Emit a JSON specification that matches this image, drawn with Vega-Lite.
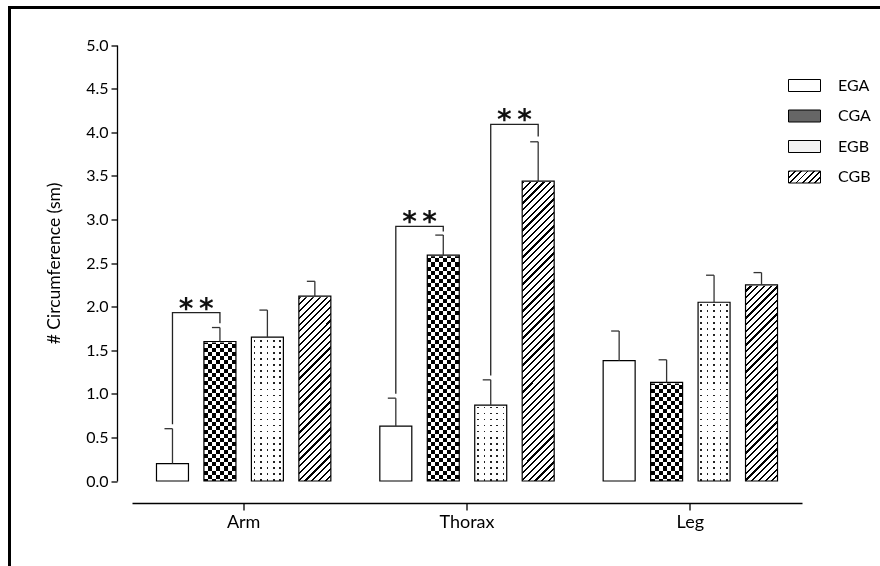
{
"$schema": "https://vega.github.io/schema/vega-lite/v6.json",
"width": 870.5,
"height": 558.5,
"autosize": {"type": "none"},
"padding": {"left": 9.5, "top": 7.5, "right": 0, "bottom": 0},
"background": "white",
"datasets": {
"bars": [
{"group":"Arm","series":"EGA","value":0.2,"upper":0.6},
{"group":"Arm","series":"CGA","value":1.6,"upper":1.76},
{"group":"Arm","series":"EGB","value":1.65,"upper":1.96},
{"group":"Arm","series":"CGB","value":2.12,"upper":2.29},
{"group":"Thorax","series":"EGA","value":0.63,"upper":0.95},
{"group":"Thorax","series":"CGA","value":2.59,"upper":2.82},
{"group":"Thorax","series":"EGB","value":0.87,"upper":1.16},
{"group":"Thorax","series":"CGB","value":3.44,"upper":3.89},
{"group":"Leg","series":"EGA","value":1.38,"upper":1.72},
{"group":"Leg","series":"CGA","value":1.13,"upper":1.39},
{"group":"Leg","series":"EGB","value":2.05,"upper":2.36},
{"group":"Leg","series":"CGB","value":2.25,"upper":2.39}
],
"brackets": [
{"id":"b1","group":"Arm","series":"EGA","y":0.65,"o":1},
{"id":"b1","group":"Arm","series":"EGA","y":1.93,"o":2},
{"id":"b1","group":"Arm","series":"CGA","y":1.93,"o":3},
{"id":"b1","group":"Arm","series":"CGA","y":1.81,"o":4},
{"id":"b2","group":"Thorax","series":"EGA","y":1.0,"o":1},
{"id":"b2","group":"Thorax","series":"EGA","y":2.92,"o":2},
{"id":"b2","group":"Thorax","series":"CGA","y":2.92,"o":3},
{"id":"b2","group":"Thorax","series":"CGA","y":2.86,"o":4},
{"id":"b3","group":"Thorax","series":"EGB","y":1.21,"o":1},
{"id":"b3","group":"Thorax","series":"EGB","y":4.09,"o":2},
{"id":"b3","group":"Thorax","series":"CGB","y":4.09,"o":3},
{"id":"b3","group":"Thorax","series":"CGB","y":3.95,"o":4}
],
"stars": [
{"group":"Arm","series":"CGA","y":1.93},
{"group":"Thorax","series":"CGA","y":2.92},
{"group":"Thorax","series":"CGB","y":4.09}
]
},
"layer": [
{
"data": {"name": "bars"},
"transform": [{"filter": "datum.series === 'CGA'"}],
"mark": {"type": "bar", "fill": {"gradient": "linear", "x1": 0, "y1": 0, "x2": 1, "y2": 0, "stops": [
{"offset":0,"color":"#000"},{"offset":0.125,"color":"#000"},{"offset":0.125,"color":"#fff"},{"offset":0.25,"color":"#fff"},
{"offset":0.25,"color":"#000"},{"offset":0.375,"color":"#000"},{"offset":0.375,"color":"#fff"},{"offset":0.5,"color":"#fff"},
{"offset":0.5,"color":"#000"},{"offset":0.625,"color":"#000"},{"offset":0.625,"color":"#fff"},{"offset":0.75,"color":"#fff"},
{"offset":0.75,"color":"#000"},{"offset":0.875,"color":"#000"},{"offset":0.875,"color":"#fff"},{"offset":1,"color":"#fff"}]}},
"encoding": {
"x": {"field": "group", "type": "nominal", "scale": {"domain": ["Arm","Thorax","Leg"], "range": [122.5, 792.5], "paddingInner": 0, "paddingOuter": 0},
"axis": {"title": null, "labelAngle": 0, "offset": -63, "tickSize": 7, "tickWidth": 1.3, "domainWidth": 1.3, "labelPadding": 3, "labelFontSize": 18}},
"xOffset": {"field": "series", "type": "nominal", "scale": {"domain": ["EGA","CGA","EGB","CGB"], "paddingInner": 0.326, "paddingOuter": 0.516}},
"y": {"datum": 2.6, "type": "quantitative", "scale": {"domain": [0, 5], "range": [473.5, 37.5], "nice": false, "zero": true},
"axis": {"title": "# Circumference (sm)", "values": [0,0.5,1,1.5,2,2.5,3,3.5,4,4.5,5], "format": ".1f", "offset": -107.5, "tickSize": 6, "tickWidth": 1.3, "domainWidth": 1.3, "labelPadding": 3, "labelFontSize": 16, "titleFontSize": 17.5, "titlePadding": 22, "grid": false}},
"y2": {"datum": 0}
}
},
{
"data": {"name": "bars"},
"transform": [{"filter": "datum.series === 'CGA'"}],
"mark": {"type": "bar", "blend": "difference", "fill": {"gradient": "linear", "x1": 0, "y1": 0, "x2": 0, "y2": 1, "stops": [
{"offset":0,"color":"#fff"},{"offset":0.018,"color":"#fff"},{"offset":0.018,"color":"rgba(255,255,255,0)"},{"offset":0.036,"color":"rgba(255,255,255,0)"},
{"offset":0.036,"color":"#fff"},{"offset":0.054,"color":"#fff"},{"offset":0.054,"color":"rgba(255,255,255,0)"},{"offset":0.072,"color":"rgba(255,255,255,0)"},
{"offset":0.072,"color":"#fff"},{"offset":0.09,"color":"#fff"},{"offset":0.09,"color":"rgba(255,255,255,0)"},{"offset":0.108,"color":"rgba(255,255,255,0)"},
{"offset":0.108,"color":"#fff"},{"offset":0.126,"color":"#fff"},{"offset":0.126,"color":"rgba(255,255,255,0)"},{"offset":0.144,"color":"rgba(255,255,255,0)"},
{"offset":0.144,"color":"#fff"},{"offset":0.162,"color":"#fff"},{"offset":0.162,"color":"rgba(255,255,255,0)"},{"offset":0.18,"color":"rgba(255,255,255,0)"},
{"offset":0.18,"color":"#fff"},{"offset":0.198,"color":"#fff"},{"offset":0.198,"color":"rgba(255,255,255,0)"},{"offset":0.216,"color":"rgba(255,255,255,0)"},
{"offset":0.216,"color":"#fff"},{"offset":0.234,"color":"#fff"},{"offset":0.234,"color":"rgba(255,255,255,0)"},{"offset":0.252,"color":"rgba(255,255,255,0)"},
{"offset":0.252,"color":"#fff"},{"offset":0.27,"color":"#fff"},{"offset":0.27,"color":"rgba(255,255,255,0)"},{"offset":0.288,"color":"rgba(255,255,255,0)"},
{"offset":0.288,"color":"#fff"},{"offset":0.306,"color":"#fff"},{"offset":0.306,"color":"rgba(255,255,255,0)"},{"offset":0.324,"color":"rgba(255,255,255,0)"},
{"offset":0.324,"color":"#fff"},{"offset":0.342,"color":"#fff"},{"offset":0.342,"color":"rgba(255,255,255,0)"},{"offset":0.36,"color":"rgba(255,255,255,0)"},
{"offset":0.36,"color":"#fff"},{"offset":0.378,"color":"#fff"},{"offset":0.378,"color":"rgba(255,255,255,0)"},{"offset":0.396,"color":"rgba(255,255,255,0)"},
{"offset":0.396,"color":"#fff"},{"offset":0.414,"color":"#fff"},{"offset":0.414,"color":"rgba(255,255,255,0)"},{"offset":0.432,"color":"rgba(255,255,255,0)"},
{"offset":0.432,"color":"#fff"},{"offset":0.45,"color":"#fff"},{"offset":0.45,"color":"rgba(255,255,255,0)"},{"offset":0.468,"color":"rgba(255,255,255,0)"},
{"offset":0.468,"color":"#fff"},{"offset":0.486,"color":"#fff"},{"offset":0.486,"color":"rgba(255,255,255,0)"},{"offset":0.504,"color":"rgba(255,255,255,0)"},
{"offset":0.504,"color":"#fff"},{"offset":0.522,"color":"#fff"},{"offset":0.522,"color":"rgba(255,255,255,0)"},{"offset":0.54,"color":"rgba(255,255,255,0)"},
{"offset":0.54,"color":"#fff"},{"offset":0.558,"color":"#fff"},{"offset":0.558,"color":"rgba(255,255,255,0)"},{"offset":0.576,"color":"rgba(255,255,255,0)"},
{"offset":0.576,"color":"#fff"},{"offset":0.594,"color":"#fff"},{"offset":0.594,"color":"rgba(255,255,255,0)"},{"offset":0.612,"color":"rgba(255,255,255,0)"},
{"offset":0.612,"color":"#fff"},{"offset":0.63,"color":"#fff"},{"offset":0.63,"color":"rgba(255,255,255,0)"},{"offset":0.648,"color":"rgba(255,255,255,0)"},
{"offset":0.648,"color":"#fff"},{"offset":0.666,"color":"#fff"},{"offset":0.666,"color":"rgba(255,255,255,0)"},{"offset":0.684,"color":"rgba(255,255,255,0)"},
{"offset":0.684,"color":"#fff"},{"offset":0.702,"color":"#fff"},{"offset":0.702,"color":"rgba(255,255,255,0)"},{"offset":0.72,"color":"rgba(255,255,255,0)"},
{"offset":0.72,"color":"#fff"},{"offset":0.738,"color":"#fff"},{"offset":0.738,"color":"rgba(255,255,255,0)"},{"offset":0.756,"color":"rgba(255,255,255,0)"},
{"offset":0.756,"color":"#fff"},{"offset":0.774,"color":"#fff"},{"offset":0.774,"color":"rgba(255,255,255,0)"},{"offset":0.792,"color":"rgba(255,255,255,0)"},
{"offset":0.792,"color":"#fff"},{"offset":0.81,"color":"#fff"},{"offset":0.81,"color":"rgba(255,255,255,0)"},{"offset":0.828,"color":"rgba(255,255,255,0)"},
{"offset":0.828,"color":"#fff"},{"offset":0.846,"color":"#fff"},{"offset":0.846,"color":"rgba(255,255,255,0)"},{"offset":0.864,"color":"rgba(255,255,255,0)"},
{"offset":0.864,"color":"#fff"},{"offset":0.882,"color":"#fff"},{"offset":0.882,"color":"rgba(255,255,255,0)"},{"offset":0.9,"color":"rgba(255,255,255,0)"},
{"offset":0.9,"color":"#fff"},{"offset":0.918,"color":"#fff"},{"offset":0.918,"color":"rgba(255,255,255,0)"},{"offset":0.936,"color":"rgba(255,255,255,0)"},
{"offset":0.936,"color":"#fff"},{"offset":0.954,"color":"#fff"},{"offset":0.954,"color":"rgba(255,255,255,0)"},{"offset":0.972,"color":"rgba(255,255,255,0)"},
{"offset":0.972,"color":"#fff"},{"offset":0.99,"color":"#fff"},{"offset":0.99,"color":"rgba(255,255,255,0)"},{"offset":1,"color":"rgba(255,255,255,0)"}]}},
"encoding": {
"x": {"field": "group", "type": "nominal"},
"xOffset": {"field": "series", "type": "nominal"},
"y": {"datum": 2.6, "type": "quantitative"},
"y2": {"datum": 0}
}
},
{
"data": {"name": "bars"},
"transform": [{"filter": "datum.series === 'EGB'"}],
"mark": {"type": "bar", "fill": {"gradient": "linear", "x1": 0, "y1": 0, "x2": 1, "y2": 0, "stops": [
{"offset":0,"color":"#fff"},{"offset":0.075,"color":"#fff"},{"offset":0.075,"color":"#222"},{"offset":0.125,"color":"#222"},{"offset":0.125,"color":"#fff"},
{"offset":0.275,"color":"#fff"},{"offset":0.275,"color":"#222"},{"offset":0.325,"color":"#222"},{"offset":0.325,"color":"#fff"},
{"offset":0.475,"color":"#fff"},{"offset":0.475,"color":"#222"},{"offset":0.525,"color":"#222"},{"offset":0.525,"color":"#fff"},
{"offset":0.675,"color":"#fff"},{"offset":0.675,"color":"#222"},{"offset":0.725,"color":"#222"},{"offset":0.725,"color":"#fff"},
{"offset":0.875,"color":"#fff"},{"offset":0.875,"color":"#222"},{"offset":0.925,"color":"#222"},{"offset":0.925,"color":"#fff"},{"offset":1,"color":"#fff"}]}},
"encoding": {
"x": {"field": "group", "type": "nominal"},
"xOffset": {"field": "series", "type": "nominal"},
"y": {"datum": 2.1, "type": "quantitative"},
"y2": {"datum": 0}
}
},
{
"data": {"name": "bars"},
"transform": [{"filter": "datum.series === 'EGB'"}],
"mark": {"type": "bar", "fill": {"gradient": "linear", "x1": 0, "y1": 0, "x2": 0, "y2": 1, "stops": [
{"offset":0,"color":"rgba(255,255,255,0)"},{"offset":0.009,"color":"rgba(255,255,255,0)"},{"offset":0.009,"color":"#fff"},{"offset":0.033,"color":"#fff"},
{"offset":0.033,"color":"rgba(255,255,255,0)"},{"offset":0.042,"color":"rgba(255,255,255,0)"},{"offset":0.042,"color":"#fff"},{"offset":0.066,"color":"#fff"},
{"offset":0.066,"color":"rgba(255,255,255,0)"},{"offset":0.075,"color":"rgba(255,255,255,0)"},{"offset":0.075,"color":"#fff"},{"offset":0.099,"color":"#fff"},
{"offset":0.099,"color":"rgba(255,255,255,0)"},{"offset":0.108,"color":"rgba(255,255,255,0)"},{"offset":0.108,"color":"#fff"},{"offset":0.132,"color":"#fff"},
{"offset":0.132,"color":"rgba(255,255,255,0)"},{"offset":0.141,"color":"rgba(255,255,255,0)"},{"offset":0.141,"color":"#fff"},{"offset":0.165,"color":"#fff"},
{"offset":0.165,"color":"rgba(255,255,255,0)"},{"offset":0.174,"color":"rgba(255,255,255,0)"},{"offset":0.174,"color":"#fff"},{"offset":0.198,"color":"#fff"},
{"offset":0.198,"color":"rgba(255,255,255,0)"},{"offset":0.207,"color":"rgba(255,255,255,0)"},{"offset":0.207,"color":"#fff"},{"offset":0.231,"color":"#fff"},
{"offset":0.231,"color":"rgba(255,255,255,0)"},{"offset":0.24,"color":"rgba(255,255,255,0)"},{"offset":0.24,"color":"#fff"},{"offset":0.264,"color":"#fff"},
{"offset":0.264,"color":"rgba(255,255,255,0)"},{"offset":0.273,"color":"rgba(255,255,255,0)"},{"offset":0.273,"color":"#fff"},{"offset":0.297,"color":"#fff"},
{"offset":0.297,"color":"rgba(255,255,255,0)"},{"offset":0.306,"color":"rgba(255,255,255,0)"},{"offset":0.306,"color":"#fff"},{"offset":0.33,"color":"#fff"},
{"offset":0.33,"color":"rgba(255,255,255,0)"},{"offset":0.339,"color":"rgba(255,255,255,0)"},{"offset":0.339,"color":"#fff"},{"offset":0.363,"color":"#fff"},
{"offset":0.363,"color":"rgba(255,255,255,0)"},{"offset":0.372,"color":"rgba(255,255,255,0)"},{"offset":0.372,"color":"#fff"},{"offset":0.396,"color":"#fff"},
{"offset":0.396,"color":"rgba(255,255,255,0)"},{"offset":0.405,"color":"rgba(255,255,255,0)"},{"offset":0.405,"color":"#fff"},{"offset":0.429,"color":"#fff"},
{"offset":0.429,"color":"rgba(255,255,255,0)"},{"offset":0.438,"color":"rgba(255,255,255,0)"},{"offset":0.438,"color":"#fff"},{"offset":0.462,"color":"#fff"},
{"offset":0.462,"color":"rgba(255,255,255,0)"},{"offset":0.471,"color":"rgba(255,255,255,0)"},{"offset":0.471,"color":"#fff"},{"offset":0.495,"color":"#fff"},
{"offset":0.495,"color":"rgba(255,255,255,0)"},{"offset":0.504,"color":"rgba(255,255,255,0)"},{"offset":0.504,"color":"#fff"},{"offset":0.528,"color":"#fff"},
{"offset":0.528,"color":"rgba(255,255,255,0)"},{"offset":0.537,"color":"rgba(255,255,255,0)"},{"offset":0.537,"color":"#fff"},{"offset":0.561,"color":"#fff"},
{"offset":0.561,"color":"rgba(255,255,255,0)"},{"offset":0.57,"color":"rgba(255,255,255,0)"},{"offset":0.57,"color":"#fff"},{"offset":0.594,"color":"#fff"},
{"offset":0.594,"color":"rgba(255,255,255,0)"},{"offset":0.603,"color":"rgba(255,255,255,0)"},{"offset":0.603,"color":"#fff"},{"offset":0.627,"color":"#fff"},
{"offset":0.627,"color":"rgba(255,255,255,0)"},{"offset":0.636,"color":"rgba(255,255,255,0)"},{"offset":0.636,"color":"#fff"},{"offset":0.66,"color":"#fff"},
{"offset":0.66,"color":"rgba(255,255,255,0)"},{"offset":0.669,"color":"rgba(255,255,255,0)"},{"offset":0.669,"color":"#fff"},{"offset":0.693,"color":"#fff"},
{"offset":0.693,"color":"rgba(255,255,255,0)"},{"offset":0.702,"color":"rgba(255,255,255,0)"},{"offset":0.702,"color":"#fff"},{"offset":0.726,"color":"#fff"},
{"offset":0.726,"color":"rgba(255,255,255,0)"},{"offset":0.735,"color":"rgba(255,255,255,0)"},{"offset":0.735,"color":"#fff"},{"offset":0.759,"color":"#fff"},
{"offset":0.759,"color":"rgba(255,255,255,0)"},{"offset":0.768,"color":"rgba(255,255,255,0)"},{"offset":0.768,"color":"#fff"},{"offset":0.792,"color":"#fff"},
{"offset":0.792,"color":"rgba(255,255,255,0)"},{"offset":0.801,"color":"rgba(255,255,255,0)"},{"offset":0.801,"color":"#fff"},{"offset":0.825,"color":"#fff"},
{"offset":0.825,"color":"rgba(255,255,255,0)"},{"offset":0.834,"color":"rgba(255,255,255,0)"},{"offset":0.834,"color":"#fff"},{"offset":0.858,"color":"#fff"},
{"offset":0.858,"color":"rgba(255,255,255,0)"},{"offset":0.867,"color":"rgba(255,255,255,0)"},{"offset":0.867,"color":"#fff"},{"offset":0.891,"color":"#fff"},
{"offset":0.891,"color":"rgba(255,255,255,0)"},{"offset":0.9,"color":"rgba(255,255,255,0)"},{"offset":0.9,"color":"#fff"},{"offset":0.924,"color":"#fff"},
{"offset":0.924,"color":"rgba(255,255,255,0)"},{"offset":0.933,"color":"rgba(255,255,255,0)"},{"offset":0.933,"color":"#fff"},{"offset":0.957,"color":"#fff"},
{"offset":0.957,"color":"rgba(255,255,255,0)"},{"offset":0.966,"color":"rgba(255,255,255,0)"},{"offset":0.966,"color":"#fff"},{"offset":0.99,"color":"#fff"},
{"offset":0.99,"color":"rgba(255,255,255,0)"},{"offset":0.999,"color":"rgba(255,255,255,0)"},{"offset":0.999,"color":"#fff"},{"offset":1,"color":"#fff"}]}},
"encoding": {
"x": {"field": "group", "type": "nominal"},
"xOffset": {"field": "series", "type": "nominal"},
"y": {"datum": 2.1, "type": "quantitative"},
"y2": {"datum": 0}
}
},
{
"data": {"name": "bars"},
"transform": [{"filter": "datum.series === 'CGB'"}],
"mark": {"type": "bar", "fill": {"gradient": "linear", "x1": 0, "y1": 0, "x2": 0.1146, "y2": 1.0929, "stops": [
{"offset":0,"color":"#000"},{"offset":0.0065,"color":"#000"},{"offset":0.0065,"color":"#fff"},{"offset":0.02,"color":"#fff"},
{"offset":0.02,"color":"#000"},{"offset":0.0265,"color":"#000"},{"offset":0.0265,"color":"#fff"},{"offset":0.04,"color":"#fff"},
{"offset":0.04,"color":"#000"},{"offset":0.0465,"color":"#000"},{"offset":0.0465,"color":"#fff"},{"offset":0.06,"color":"#fff"},
{"offset":0.06,"color":"#000"},{"offset":0.0665,"color":"#000"},{"offset":0.0665,"color":"#fff"},{"offset":0.08,"color":"#fff"},
{"offset":0.08,"color":"#000"},{"offset":0.0865,"color":"#000"},{"offset":0.0865,"color":"#fff"},{"offset":0.1,"color":"#fff"},
{"offset":0.1,"color":"#000"},{"offset":0.1065,"color":"#000"},{"offset":0.1065,"color":"#fff"},{"offset":0.12,"color":"#fff"},
{"offset":0.12,"color":"#000"},{"offset":0.1265,"color":"#000"},{"offset":0.1265,"color":"#fff"},{"offset":0.14,"color":"#fff"},
{"offset":0.14,"color":"#000"},{"offset":0.1465,"color":"#000"},{"offset":0.1465,"color":"#fff"},{"offset":0.16,"color":"#fff"},
{"offset":0.16,"color":"#000"},{"offset":0.1665,"color":"#000"},{"offset":0.1665,"color":"#fff"},{"offset":0.18,"color":"#fff"},
{"offset":0.18,"color":"#000"},{"offset":0.1865,"color":"#000"},{"offset":0.1865,"color":"#fff"},{"offset":0.2,"color":"#fff"},
{"offset":0.2,"color":"#000"},{"offset":0.2065,"color":"#000"},{"offset":0.2065,"color":"#fff"},{"offset":0.22,"color":"#fff"},
{"offset":0.22,"color":"#000"},{"offset":0.2265,"color":"#000"},{"offset":0.2265,"color":"#fff"},{"offset":0.24,"color":"#fff"},
{"offset":0.24,"color":"#000"},{"offset":0.2465,"color":"#000"},{"offset":0.2465,"color":"#fff"},{"offset":0.26,"color":"#fff"},
{"offset":0.26,"color":"#000"},{"offset":0.2665,"color":"#000"},{"offset":0.2665,"color":"#fff"},{"offset":0.28,"color":"#fff"},
{"offset":0.28,"color":"#000"},{"offset":0.2865,"color":"#000"},{"offset":0.2865,"color":"#fff"},{"offset":0.3,"color":"#fff"},
{"offset":0.3,"color":"#000"},{"offset":0.3065,"color":"#000"},{"offset":0.3065,"color":"#fff"},{"offset":0.32,"color":"#fff"},
{"offset":0.32,"color":"#000"},{"offset":0.3265,"color":"#000"},{"offset":0.3265,"color":"#fff"},{"offset":0.34,"color":"#fff"},
{"offset":0.34,"color":"#000"},{"offset":0.3465,"color":"#000"},{"offset":0.3465,"color":"#fff"},{"offset":0.36,"color":"#fff"},
{"offset":0.36,"color":"#000"},{"offset":0.3665,"color":"#000"},{"offset":0.3665,"color":"#fff"},{"offset":0.38,"color":"#fff"},
{"offset":0.38,"color":"#000"},{"offset":0.3865,"color":"#000"},{"offset":0.3865,"color":"#fff"},{"offset":0.4,"color":"#fff"},
{"offset":0.4,"color":"#000"},{"offset":0.4065,"color":"#000"},{"offset":0.4065,"color":"#fff"},{"offset":0.42,"color":"#fff"},
{"offset":0.42,"color":"#000"},{"offset":0.4265,"color":"#000"},{"offset":0.4265,"color":"#fff"},{"offset":0.44,"color":"#fff"},
{"offset":0.44,"color":"#000"},{"offset":0.4465,"color":"#000"},{"offset":0.4465,"color":"#fff"},{"offset":0.46,"color":"#fff"},
{"offset":0.46,"color":"#000"},{"offset":0.4665,"color":"#000"},{"offset":0.4665,"color":"#fff"},{"offset":0.48,"color":"#fff"},
{"offset":0.48,"color":"#000"},{"offset":0.4865,"color":"#000"},{"offset":0.4865,"color":"#fff"},{"offset":0.5,"color":"#fff"},
{"offset":0.5,"color":"#000"},{"offset":0.5065,"color":"#000"},{"offset":0.5065,"color":"#fff"},{"offset":0.52,"color":"#fff"},
{"offset":0.52,"color":"#000"},{"offset":0.5265,"color":"#000"},{"offset":0.5265,"color":"#fff"},{"offset":0.54,"color":"#fff"},
{"offset":0.54,"color":"#000"},{"offset":0.5465,"color":"#000"},{"offset":0.5465,"color":"#fff"},{"offset":0.56,"color":"#fff"},
{"offset":0.56,"color":"#000"},{"offset":0.5665,"color":"#000"},{"offset":0.5665,"color":"#fff"},{"offset":0.58,"color":"#fff"},
{"offset":0.58,"color":"#000"},{"offset":0.5865,"color":"#000"},{"offset":0.5865,"color":"#fff"},{"offset":0.6,"color":"#fff"},
{"offset":0.6,"color":"#000"},{"offset":0.6065,"color":"#000"},{"offset":0.6065,"color":"#fff"},{"offset":0.62,"color":"#fff"},
{"offset":0.62,"color":"#000"},{"offset":0.6265,"color":"#000"},{"offset":0.6265,"color":"#fff"},{"offset":0.64,"color":"#fff"},
{"offset":0.64,"color":"#000"},{"offset":0.6465,"color":"#000"},{"offset":0.6465,"color":"#fff"},{"offset":0.66,"color":"#fff"},
{"offset":0.66,"color":"#000"},{"offset":0.6665,"color":"#000"},{"offset":0.6665,"color":"#fff"},{"offset":0.68,"color":"#fff"},
{"offset":0.68,"color":"#000"},{"offset":0.6865,"color":"#000"},{"offset":0.6865,"color":"#fff"},{"offset":0.7,"color":"#fff"},
{"offset":0.7,"color":"#000"},{"offset":0.7065,"color":"#000"},{"offset":0.7065,"color":"#fff"},{"offset":0.72,"color":"#fff"},
{"offset":0.72,"color":"#000"},{"offset":0.7265,"color":"#000"},{"offset":0.7265,"color":"#fff"},{"offset":0.74,"color":"#fff"},
{"offset":0.74,"color":"#000"},{"offset":0.7465,"color":"#000"},{"offset":0.7465,"color":"#fff"},{"offset":0.76,"color":"#fff"},
{"offset":0.76,"color":"#000"},{"offset":0.7665,"color":"#000"},{"offset":0.7665,"color":"#fff"},{"offset":0.78,"color":"#fff"},
{"offset":0.78,"color":"#000"},{"offset":0.7865,"color":"#000"},{"offset":0.7865,"color":"#fff"},{"offset":0.8,"color":"#fff"},
{"offset":0.8,"color":"#000"},{"offset":0.8065,"color":"#000"},{"offset":0.8065,"color":"#fff"},{"offset":0.82,"color":"#fff"},
{"offset":0.82,"color":"#000"},{"offset":0.8265,"color":"#000"},{"offset":0.8265,"color":"#fff"},{"offset":0.84,"color":"#fff"},
{"offset":0.84,"color":"#000"},{"offset":0.8465,"color":"#000"},{"offset":0.8465,"color":"#fff"},{"offset":0.86,"color":"#fff"},
{"offset":0.86,"color":"#000"},{"offset":0.8665,"color":"#000"},{"offset":0.8665,"color":"#fff"},{"offset":0.88,"color":"#fff"},
{"offset":0.88,"color":"#000"},{"offset":0.8865,"color":"#000"},{"offset":0.8865,"color":"#fff"},{"offset":0.9,"color":"#fff"},
{"offset":0.9,"color":"#000"},{"offset":0.9065,"color":"#000"},{"offset":0.9065,"color":"#fff"},{"offset":0.92,"color":"#fff"},
{"offset":0.92,"color":"#000"},{"offset":0.9265,"color":"#000"},{"offset":0.9265,"color":"#fff"},{"offset":0.94,"color":"#fff"},
{"offset":0.94,"color":"#000"},{"offset":0.9465,"color":"#000"},{"offset":0.9465,"color":"#fff"},{"offset":0.96,"color":"#fff"},
{"offset":0.96,"color":"#000"},{"offset":0.9665,"color":"#000"},{"offset":0.9665,"color":"#fff"},{"offset":0.98,"color":"#fff"},
{"offset":0.98,"color":"#000"},{"offset":0.9865,"color":"#000"},{"offset":0.9865,"color":"#fff"},{"offset":1,"color":"#fff"}]}},
"encoding": {
"x": {"field": "group", "type": "nominal"},
"xOffset": {"field": "series", "type": "nominal"},
"y": {"datum": 3.5, "type": "quantitative"},
"y2": {"datum": 0}
}
},
{
"data": {"name": "bars"},
"transform": [{"filter": "datum.series !== 'EGA'"}],
"mark": {"type": "bar", "fill": "white", "stroke": "white", "strokeWidth": 2},
"encoding": {
"x": {"field": "group", "type": "nominal"},
"xOffset": {"field": "series", "type": "nominal"},
"y": {"field": "value", "type": "quantitative"},
"y2": {"datum": 5}
}
},
{
"data": {"name": "bars"},
"mark": {"type": "bar", "fillOpacity": 0, "stroke": "black", "strokeWidth": 1.2},
"encoding": {
"x": {"field": "group", "type": "nominal"},
"xOffset": {"field": "series", "type": "nominal"},
"y": {"field": "value", "type": "quantitative"},
"y2": {"datum": 0},
"fill": {"field": "series", "type": "nominal",
"scale": {"domain": ["EGA","CGA","EGB","CGB"], "range": ["#ffffff", "#666666", "#f3f3f3",
{"expr": "{gradient:'linear',x1:0,y1:0,x2:1.207,y2:0.4525,stops:[{offset:0,color:'#000'},{offset:0.045,color:'#000'},{offset:0.045,color:'#fff'},{offset:0.14,color:'#fff'},{offset:0.14,color:'#000'},{offset:0.185,color:'#000'},{offset:0.185,color:'#fff'},{offset:0.28,color:'#fff'},{offset:0.28,color:'#000'},{offset:0.325,color:'#000'},{offset:0.325,color:'#fff'},{offset:0.42,color:'#fff'},{offset:0.42,color:'#000'},{offset:0.465,color:'#000'},{offset:0.465,color:'#fff'},{offset:0.56,color:'#fff'},{offset:0.56,color:'#000'},{offset:0.605,color:'#000'},{offset:0.605,color:'#fff'},{offset:0.7,color:'#fff'},{offset:0.7,color:'#000'},{offset:0.745,color:'#000'},{offset:0.745,color:'#fff'},{offset:0.84,color:'#fff'},{offset:0.84,color:'#000'},{offset:0.885,color:'#000'},{offset:0.885,color:'#fff'},{offset:0.98,color:'#fff'},{offset:0.98,color:'#000'},{offset:1,color:'#000'}]}"}]},
"legend": {"title": null, "orient": "none", "legendX": 778.5, "legendY": 61.5, "padding": 0,
"symbolType": "M-1,-0.375H1V0.375H-1Z", "symbolSize": 1024, "symbolStrokeColor": "black", "symbolStrokeWidth": 1,
"labelFont": "Lato", "labelFontSize": 16, "labelColor": "black", "labelOffset": 17, "rowPadding": 5.5,
"encode": {"symbols": {"update": {"fillOpacity": {"value": 1}, "opacity": {"value": 1}}}}}}
}
},
{
"data": {"name": "bars"},
"mark": {"type": "rule", "color": "#333", "strokeWidth": 1.3},
"encoding": {
"x": {"field": "group", "type": "nominal"},
"xOffset": {"field": "series", "type": "nominal"},
"y": {"field": "value", "type": "quantitative"},
"y2": {"field": "upper"}
}
},
{
"data": {"name": "bars"},
"mark": {"type": "point", "shape": "M-1,0H0", "size": 256, "filled": false, "color": "#333", "strokeWidth": 1.3, "opacity": 1},
"encoding": {
"x": {"field": "group", "type": "nominal"},
"xOffset": {"field": "series", "type": "nominal"},
"y": {"field": "upper", "type": "quantitative"}
}
},
{
"data": {"name": "brackets"},
"mark": {"type": "line", "color": "#222", "strokeWidth": 1.3, "interpolate": "linear"},
"encoding": {
"x": {"field": "group", "type": "nominal"},
"xOffset": {"field": "series", "type": "nominal"},
"y": {"field": "y", "type": "quantitative"},
"order": {"field": "o", "type": "quantitative"},
"detail": {"field": "id", "type": "nominal"}
}
},
{
"data": {"name": "stars"},
"mark": {"type": "text", "text": "*\u2009*", "font": "DejaVu Sans", "fontSize": 28, "fontWeight": "bold", "dx": -23.7, "dy": 5, "baseline": "alphabetic", "align": "center", "color": "#111"},
"encoding": {
"x": {"field": "group", "type": "nominal"},
"xOffset": {"field": "series", "type": "nominal"},
"y": {"field": "y", "type": "quantitative"}
}
}
],
"config": {
"view": {"stroke": "black", "strokeWidth": 3, "strokeDash": [870.5, 1429, 558.5]},
"font": "Lato",
"axis": {"labelFont": "Lato", "titleFont": "Lato", "labelColor": "black", "titleColor": "black", "domainColor": "black", "tickColor": "black", "titleFontWeight": "normal"}
}
}
